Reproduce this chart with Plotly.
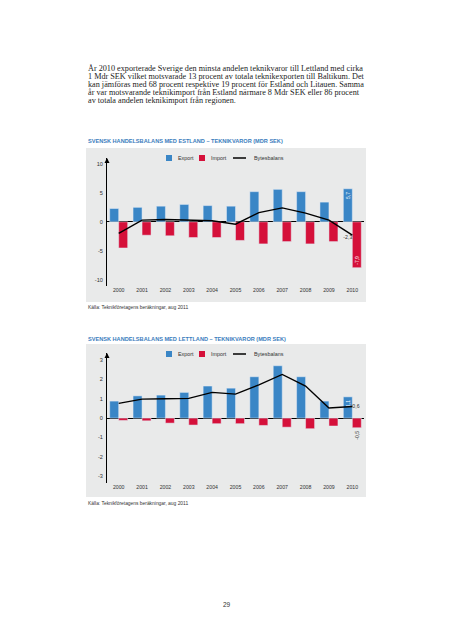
import plotly.graph_objects as go

# ---------------- data ----------------
years = [2000, 2001, 2002, 2003, 2004, 2005, 2006, 2007, 2008, 2009, 2010]

est_export = [2.3, 2.5, 2.7, 3.0, 2.8, 2.7, 5.2, 5.6, 5.2, 3.4, 5.7]
est_import = [-4.5, -2.3, -2.4, -2.7, -2.7, -3.2, -3.8, -3.4, -3.8, -3.4, -7.9]
est_balance = [-2.0, 0.3, 0.4, 0.3, 0.2, -0.4, 1.6, 2.4, 1.5, 0.3, -2.3]

lat_export = [0.88, 1.15, 1.19, 1.33, 1.66, 1.55, 2.14, 2.71, 2.14, 0.88, 1.1]
lat_import = [-0.12, -0.14, -0.26, -0.36, -0.29, -0.29, -0.38, -0.47, -0.55, -0.41, -0.5]
lat_balance = [0.76, 0.98, 1.0, 1.02, 1.33, 1.24, 1.72, 2.26, 1.66, 0.52, 0.6]

est_yticks = [-10, -5, 0, 5, 10]
lat_yticks = [-3, -2, -1, 0, 1, 2, 3]

series_names = ["Export", "Import", "Bytesbalans"]
titles = ["SVENSK HANDELSBALANS MED ESTLAND – TEKNIKVAROR (MDR SEK)",
          "SVENSK HANDELSBALANS MED LETTLAND – TEKNIKVAROR (MDR SEK)"]
source = "Källa: Teknikföretagens beräkningar, aug 2011"
paragraph = [
    "År 2010 exporterade Sverige den minsta andelen teknikvaror till Lettland med cirka",
    "1 Mdr SEK vilket motsvarade 13 procent av totala teknikexporten till Baltikum. Det",
    "kan jämföras med 68 procent respektive 19 procent för Estland och Litauen. Samma",
    "år var motsvarande teknikimport från Estland närmare 8 Mdr SEK eller 86 procent",
    "av totala andelen teknikimport från regionen.",
]
page_no = "29"

# ---------------- styling ----------------
W, H = 453, 640
BLUE = "#3a86c6"
RED = "#d5103a"
GRAY = "#e9eaea"
TITLE_BLUE = "#3b7dbd"
TXT = "#333333"
SANS = "Liberation Sans, Arial, sans-serif"
SERIF = "Liberation Serif, Times New Roman, serif"


def xp(px):
    return px / W


def yp(py):
    return 1 - py / H


def fmt(v):
    return f"{v:.1f}".replace(".", ",")


def last_only(vals):
    return [""] * (len(vals) - 1) + [fmt(vals[-1])]


fig = go.Figure()

# ---- Estonia chart ----
fig.add_trace(go.Bar(x=years, y=est_export, name=series_names[0], marker_color=BLUE,
                     xaxis="x", yaxis="y", showlegend=False,
                     text=last_only(est_export), textposition="inside",
                     insidetextanchor="end", textangle=-90,
                     insidetextfont=dict(family=SANS, size=5, color="white"),
                     constraintext="none", cliponaxis=False))
fig.add_trace(go.Bar(x=years, y=est_import, name=series_names[1], marker_color=RED,
                     xaxis="x", yaxis="y", showlegend=False,
                     text=last_only(est_import), textposition="inside",
                     insidetextanchor="end", textangle=-90,
                     insidetextfont=dict(family=SANS, size=5, color="white"),
                     constraintext="none", cliponaxis=False))
fig.add_trace(go.Scatter(x=years, y=est_balance, name=series_names[2], mode="lines+text",
                         line=dict(color="black", width=1.4), xaxis="x", yaxis="y",
                         showlegend=False, text=last_only(est_balance),
                         textposition="bottom left",
                         textfont=dict(family=SANS, size=5.2, color=TXT), cliponaxis=False))

# ---- Latvia chart ----
fig.add_trace(go.Bar(x=years, y=lat_export, name=series_names[0], marker_color=BLUE,
                     xaxis="x2", yaxis="y2", showlegend=False,
                     text=last_only(lat_export), textposition="inside",
                     insidetextanchor="end", textangle=-90,
                     insidetextfont=dict(family=SANS, size=5, color="white"),
                     constraintext="none", cliponaxis=False))
fig.add_trace(go.Bar(x=years, y=lat_import, name=series_names[1], marker_color=RED,
                     xaxis="x2", yaxis="y2", showlegend=False,
                     text=last_only(lat_import), textposition="outside", textangle=-90,
                     outsidetextfont=dict(family=SANS, size=5.2, color=TXT),
                     constraintext="none", cliponaxis=False))
fig.add_trace(go.Scatter(x=years, y=lat_balance, name=series_names[2], mode="lines+text",
                         line=dict(color="black", width=1.4), xaxis="x2", yaxis="y2",
                         showlegend=False, text=last_only(lat_balance),
                         textposition="middle right",
                         textfont=dict(family=SANS, size=5.2, color=TXT), cliponaxis=False))

xdom = [xp(107), xp(364)]
common_x = dict(range=[1999.5, 2010.5], tickmode="array", tickvals=years,
                ticktext=[str(y) for y in years], showgrid=False, zeroline=False,
                showline=False, ticks="", tickfont=dict(family=SANS, size=5.2, color=TXT),
                domain=xdom, fixedrange=True)
common_y = dict(showgrid=False, zeroline=True, zerolinecolor="black", zerolinewidth=1,
                showline=True, linecolor="black", linewidth=1, ticks="",
                ticklabelstandoff=2,
                tickfont=dict(family=SANS, size=5.6, color=TXT), fixedrange=True)

fig.update_layout(
    width=W, height=H, autosize=False,
    margin=dict(l=0, r=0, t=0, b=0),
    paper_bgcolor="white", plot_bgcolor="rgba(0,0,0,0)",
    barmode="group", bargap=0.23, bargroupgap=0,
    showlegend=False,
    xaxis=dict(common_x, anchor="y"),
    yaxis=dict(common_y, anchor="x", domain=[yp(286), yp(158)], range=[-11.05, 11.0],
               tickvals=est_yticks, ticktext=[str(v) for v in est_yticks]),
    xaxis2=dict(common_x, anchor="y2"),
    yaxis2=dict(common_y, anchor="x2", domain=[yp(483), yp(353)], range=[-3.36, 3.37],
                tickvals=lat_yticks, ticktext=[str(v) for v in lat_yticks]),
)

shapes = []
annotations = []

# gray panels
for top, bot in [(148, 302), (344, 497)]:
    shapes.append(dict(type="rect", xref="paper", yref="paper", x0=xp(86), x1=xp(366),
                       y0=yp(bot), y1=yp(top), fillcolor=GRAY, line=dict(width=0),
                       layer="below"))

# titles and sources
for ty, txt in [(141, titles[0]), (339, titles[1])]:
    annotations.append(dict(x=xp(86), y=yp(ty), xref="paper", yref="paper", text=f"<b>{txt}</b>",
                            showarrow=False, xanchor="left", yanchor="middle",
                            font=dict(family=SANS, size=5.6, color=TITLE_BLUE)))
for sy in [307, 503]:
    annotations.append(dict(x=xp(86), y=yp(sy), xref="paper", yref="paper", text=source,
                            showarrow=False, xanchor="left", yanchor="middle",
                            font=dict(family=SANS, size=4.9, color=TXT)))

# axis arrows
for xr, yr in [("x domain", "y domain"), ("x2 domain", "y2 domain")]:
    annotations.append(dict(x=0, y=1, xref=xr, yref=yr, ax=0, ay=6, showarrow=True,
                            arrowhead=2, arrowsize=1, arrowwidth=1, arrowcolor="black",
                            text=""))

# manual legends
for ly in [158, 354]:
    shapes.append(dict(type="rect", xref="paper", yref="paper", x0=xp(166), x1=xp(172),
                       y0=yp(ly + 3), y1=yp(ly - 3), fillcolor=BLUE, line=dict(width=0)))
    shapes.append(dict(type="rect", xref="paper", yref="paper", x0=xp(199), x1=xp(205),
                       y0=yp(ly + 3), y1=yp(ly - 3), fillcolor=RED, line=dict(width=0)))
    shapes.append(dict(type="line", xref="paper", yref="paper", x0=xp(233), x1=xp(246),
                       y0=yp(ly), y1=yp(ly), line=dict(color="black", width=1.5)))
    for lx, name in [(176, series_names[0]), (209, series_names[1]), (252, series_names[2])]:
        annotations.append(dict(x=xp(lx), y=yp(ly), xref="paper", yref="paper", text=name,
                                showarrow=False, xanchor="left", yanchor="middle",
                                font=dict(family=SANS, size=5.4, color=TXT)))

# paragraph
for i, line in enumerate(paragraph):
    annotations.append(dict(x=xp(86), y=yp(69 + i * 7.9), xref="paper", yref="paper",
                            text=line, showarrow=False, xanchor="left", yanchor="middle",
                            font=dict(family=SERIF, size=8.2, color="#222222")))

# page number
annotations.append(dict(x=xp(227), y=yp(604), xref="paper", yref="paper", text=page_no,
                        showarrow=False, xanchor="center", yanchor="middle",
                        font=dict(family=SANS, size=6.5, color=TXT)))

fig.update_layout(shapes=shapes, annotations=annotations)

fig.write_html("out.html", config={"displayModeBar": False},
               post_script="document.body.style.margin='0';document.body.style.padding='0';")
